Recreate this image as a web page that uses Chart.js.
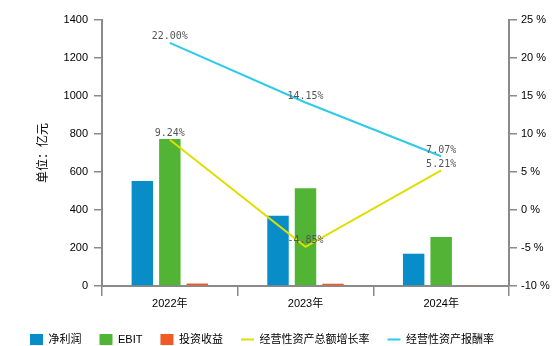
<!DOCTYPE html>
<html>
<head>
<meta charset="utf-8">
<script src="https://cdn.jsdelivr.net/npm/chart.js@4.4.1/dist/chart.umd.min.js"></script>
<style>
body { margin: 0; background: #fff; }
#wrap { width: 560px; height: 346px; }
</style>
</head>
<body>
<div id="wrap"><canvas id="chart" width="560" height="346"></canvas></div>
<script>
// 数据
const years = ['2022年', '2023年', '2024年'];
const netProfit = [553, 370, 170];
const ebit = [774, 514, 258];
const investIncome = [13, 12, 5];
const assetGrowth = [9.24, -4.85, 5.21];
const assetReturn = [22.00, 14.15, 7.07];
const leftTicks = [0, 1400, 200];
const rightTicks = [-10, 25, 5];

const tickFont = { family: '"Liberation Sans", "Noto Sans CJK SC", sans-serif', size: 11 };
const axisGray = '#8a8a8a';

// 折线上的百分比标签
const pctLabels = {
    id: 'pctLabels',
    afterDatasetsDraw(chart) {
        const ctx = chart.ctx;
        ctx.save();
        ctx.font = '10px "DejaVu Sans Mono", monospace';
        ctx.fillStyle = '#555';
        ctx.textAlign = 'center';
        ctx.textBaseline = 'bottom';
        [3, 4].forEach(i => {
            const meta = chart.getDatasetMeta(i);
            meta.data.forEach((pt, j) => {
                const v = chart.data.datasets[i].data[j];
                ctx.fillText(v.toFixed(2) + '%', pt.x, pt.y - 1);
            });
        });
        ctx.restore();
    }
};

new Chart(document.getElementById('chart'), {
    type: 'bar',
    data: {
        labels: years,
        datasets: [
            { label: '净利润', data: netProfit, backgroundColor: '#088dc8', yAxisID: 'y', pointStyle: 'rect', order: 3 },
            { label: 'EBIT', data: ebit, backgroundColor: '#52b434', yAxisID: 'y', pointStyle: 'rect', order: 3 },
            { label: '投资收益', data: investIncome, backgroundColor: '#f15a24', yAxisID: 'y', pointStyle: 'rect', order: 3 },
            { type: 'line', label: '经营性资产总额增长率', data: assetGrowth, borderColor: '#dede00', backgroundColor: '#dede00',
              borderWidth: 2, pointRadius: 0, yAxisID: 'y1', pointStyle: 'line', order: 1 },
            { type: 'line', label: '经营性资产报酬率', data: assetReturn, borderColor: '#2dcbe8', backgroundColor: '#2dcbe8',
              borderWidth: 2, pointRadius: 0, yAxisID: 'y1', pointStyle: 'line', order: 1 }
        ]
    },
    options: {
        responsive: false,
        animation: false,
        devicePixelRatio: 1,
        categoryPercentage: 0.608,
        barPercentage: 0.78,
        layout: { padding: { left: 12, right: 0, top: 20, bottom: -9 } },
        plugins: {
            tooltip: { enabled: false },
            legend: {
                position: 'bottom',
                align: 'start',
                labels: {
                    usePointStyle: true,
                    pointStyleWidth: 13,
                    padding: 18,
                    color: '#000',
                    sort: (a, b) => a.datasetIndex - b.datasetIndex,
                    font: { family: '"Liberation Sans", "Noto Sans CJK SC", sans-serif', size: 11 }
                }
            }
        },
        scales: {
            x: {
                grid: { drawOnChartArea: false, tickLength: 10, color: axisGray, lineWidth: 1.5 },
                border: { color: axisGray, width: 2 },
                ticks: { color: '#000', font: tickFont, padding: 1 },
                afterFit(s) { s.height = 30; }
            },
            y: {
                position: 'left',
                min: leftTicks[0],
                max: leftTicks[1],
                ticks: { stepSize: leftTicks[2], color: '#000', font: tickFont, padding: 6,
                         callback: v => String(v) },
                grid: { drawOnChartArea: false, tickLength: 8, color: axisGray, lineWidth: 1.5 },
                border: { color: axisGray, width: 2 },
                title: {
                    display: true,
                    text: '单位：亿元',
                    color: '#000',
                    font: { family: '"Noto Sans CJK SC", sans-serif', size: 12 },
                    padding: { top: 23, bottom: 0 }
                },
                afterFit(s) { s.width = 90; }
            },
            y1: {
                position: 'right',
                min: rightTicks[0],
                max: rightTicks[1],
                ticks: { stepSize: rightTicks[2], color: '#000', font: tickFont, padding: 4,
                         callback: v => v + ' %' },
                grid: { drawOnChartArea: false, tickLength: 8, color: axisGray, lineWidth: 1.5 },
                border: { color: axisGray, width: 2 },
                afterFit(s) { s.width = 51; }
            }
        }
    },
    plugins: [pctLabels]
});
</script>
</body>
</html>
